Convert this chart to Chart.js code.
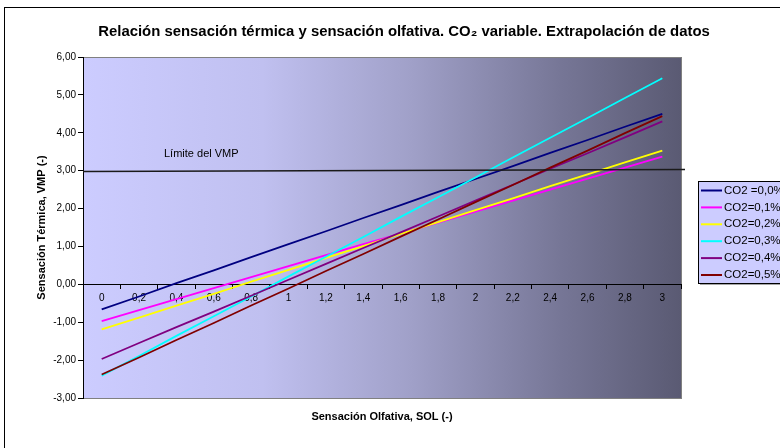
<!DOCTYPE html>
<html>
<head>
<meta charset="utf-8">
<script src="https://cdn.jsdelivr.net/npm/chart.js@4.4.1/dist/chart.umd.min.js"></script>
<style>
  html, body { margin: 0; padding: 0; background: #ffffff; }
  canvas { display: block; }
</style>
</head>
<body>
<canvas id="c" width="780" height="448"></canvas>
<script>
// ---- data ----
const solLabels = ['0','0,2','0,4','0,6','0,8','1','1,2','1,4','1,6','1,8','2','2,2','2,4','2,6','2,8','3'];
const seriesNames = ['CO2 =0,0%','CO2=0,1%','CO2=0,2%','CO2=0,3%','CO2=0,4%','CO2=0,5%'];
const co2_00 = [-0.66,-0.32,0.03,0.37,0.72,1.06,1.40,1.75,2.09,2.44,2.78,3.12,3.47,3.81,4.16,4.50];
const co2_01 = [-0.97,-0.68,-0.39,-0.10,0.19,0.48,0.77,1.06,1.34,1.63,1.92,2.21,2.50,2.79,3.08,3.37];
const co2_02 = [-1.19,-0.88,-0.56,-0.25,0.07,0.38,0.70,1.01,1.33,1.64,1.96,2.27,2.59,2.90,3.22,3.53];
const co2_03 = [-2.41,-1.89,-1.36,-0.84,-0.32,0.21,0.73,1.25,1.78,2.30,2.82,3.35,3.87,4.39,4.92,5.44];
const co2_04 = [-1.97,-1.55,-1.13,-0.72,-0.30,0.12,0.54,0.96,1.37,1.79,2.21,2.63,3.05,3.46,3.88,4.30];
const co2_05 = [-2.38,-1.93,-1.47,-1.02,-0.56,-0.11,0.35,0.80,1.26,1.71,2.17,2.62,3.08,3.53,3.99,4.44];
const vmpLimit = [2.98, 3.03];           // drawn limit line (left end, right end)
const vmpLabel = 'Límite del VMP';
const titleText = 'Relación sensación térmica y sensación olfativa. CO₂ variable. Extrapolación de datos';
const yTitle = 'Sensación Térmica, VMP (-)';
const xTitle = 'Sensación Olfativa, SOL (-)';

const FONT = '"Liberation Sans", Arial, sans-serif';
const colors = ['#000080','#FF00FF','#FFFF00','#00FFFF','#800080','#800000'];
const allSeries = [co2_00, co2_01, co2_02, co2_03, co2_04, co2_05];

const bgPlugin = {
  id: 'bgPlugin',
  beforeDraw(chart) {
    const {ctx, chartArea: a} = chart;
    ctx.save();
    // outer chart border (extends past right/bottom edges)
    ctx.strokeStyle = '#000';
    ctx.lineWidth = 1;
    ctx.strokeRect(4.5, 7.5, 1000, 1000);
    const g = ctx.createLinearGradient(a.left, 0, a.right, 0);
    g.addColorStop(0, 'rgb(204,204,255)');
    g.addColorStop(0.3, 'rgb(192,192,240)');
    g.addColorStop(0.55, 'rgb(160,160,200)');
    g.addColorStop(0.8, 'rgb(118,118,150)');
    g.addColorStop(1, 'rgb(90,90,115)');
    ctx.fillStyle = g;
    ctx.fillRect(a.left, a.top, a.right - a.left, a.bottom - a.top);
    ctx.strokeStyle = '#808080';
    ctx.strokeRect(a.left + 0.5, a.top + 0.5, a.right - a.left, a.bottom - a.top);
    ctx.restore();
  },
  afterDatasetsDraw(chart) {
    const {ctx, chartArea: a, scales} = chart;
    const y = scales.y;
    ctx.save();
    // VMP limit line
    ctx.strokeStyle = '#1a1a1a';
    ctx.lineWidth = 1.5;
    ctx.beginPath();
    ctx.moveTo(a.left, y.getPixelForValue(vmpLimit[0]));
    ctx.lineTo(a.right + 4, y.getPixelForValue(vmpLimit[1]));
    ctx.stroke();
    ctx.fillStyle = '#000';
    ctx.font = '11px ' + FONT;
    ctx.textAlign = 'left';
    ctx.textBaseline = 'middle';
    ctx.fillText(vmpLabel, a.left + 81, y.getPixelForValue(3.44));

    // legend
    const lx = 698, ly = 181, lh = 102;
    ctx.fillStyle = 'rgba(0,0,0,0.35)';
    ctx.fillRect(lx + 2, ly + 2, 200, lh);
    ctx.fillStyle = 'rgb(204,204,255)';
    ctx.fillRect(lx, ly, 200, lh);
    ctx.strokeStyle = '#000';
    ctx.lineWidth = 1;
    ctx.strokeRect(lx + 0.5, ly + 0.5, 200, lh);
    chart.data.datasets.forEach((ds, i) => {
      const yy = ly + 9.5 + i * 16.9;
      ctx.strokeStyle = ds.borderColor;
      ctx.lineWidth = 2;
      ctx.beginPath();
      ctx.moveTo(lx + 3, yy);
      ctx.lineTo(lx + 24, yy);
      ctx.stroke();
      ctx.fillStyle = '#000';
      ctx.font = '11.5px ' + FONT;
      ctx.fillText(ds.label, lx + 26, yy);
    });
    ctx.restore();
  }
};

new Chart(document.getElementById('c'), {
  type: 'line',
  data: {
    labels: solLabels,
    datasets: allSeries.map((d, i) => ({
      label: seriesNames[i],
      data: d,
      borderColor: colors[i],
      backgroundColor: colors[i],
      borderWidth: 1.75,
      pointRadius: 0,
      tension: 0,
      fill: false,
      order: 5 - i
    }))
  },
  options: {
    responsive: false,
    animation: false,
    devicePixelRatio: 1,
    layout: { padding: { left: 28, right: 0, top: 0, bottom: 50 } },
    plugins: {
      legend: { display: false },
      tooltip: { enabled: false },
      title: {
        display: true,
        text: titleText,
        color: '#000',
        font: { family: FONT, size: 14.9, weight: 'bold' },
        padding: { top: 23.06, bottom: 16.06 }
      }
    },
    scales: {
      x: {
        type: 'category',
        position: { y: 0 },
        offset: true,
        grid: { display: true, offset: true, drawOnChartArea: false, drawTicks: true, tickLength: 4, color: '#000' },
        border: { display: true, color: '#000', width: 1 },
        ticks: { color: '#000', font: { family: FONT, size: 10 }, padding: 4, maxRotation: 0, autoSkip: false },
        title: { display: true, text: xTitle, color: '#000', font: { family: FONT, size: 11, weight: 'bold' }, padding: 0 },
        afterFit(s) { s.height = 417 - 284.33 + 6.6; }
      },
      y: {
        type: 'linear',
        position: 'left',
        min: -3, max: 6,
        grid: { display: true, drawOnChartArea: false, drawTicks: true, tickLength: 5, color: '#000' },
        border: { display: true, color: '#000', width: 1 },
        ticks: {
          stepSize: 1, color: '#000', padding: 2,
          font: { family: FONT, size: 10 },
          callback: (v) => v.toFixed(2).replace('.', ',')
        },
        title: { display: true, text: yTitle, color: '#000', font: { family: FONT, size: 11, weight: 'bold' }, padding: { top: 7.4, bottom: 0 } },
        afterFit(s) { s.width = 55; }
      },
      yR: {
        type: 'linear',
        position: 'right',
        display: true,
        grid: { display: false },
        border: { display: false },
        ticks: { display: false },
        afterFit(s) { s.width = 99; }
      }
    }
  },
  plugins: [bgPlugin]
});
</script>
</body>
</html>
